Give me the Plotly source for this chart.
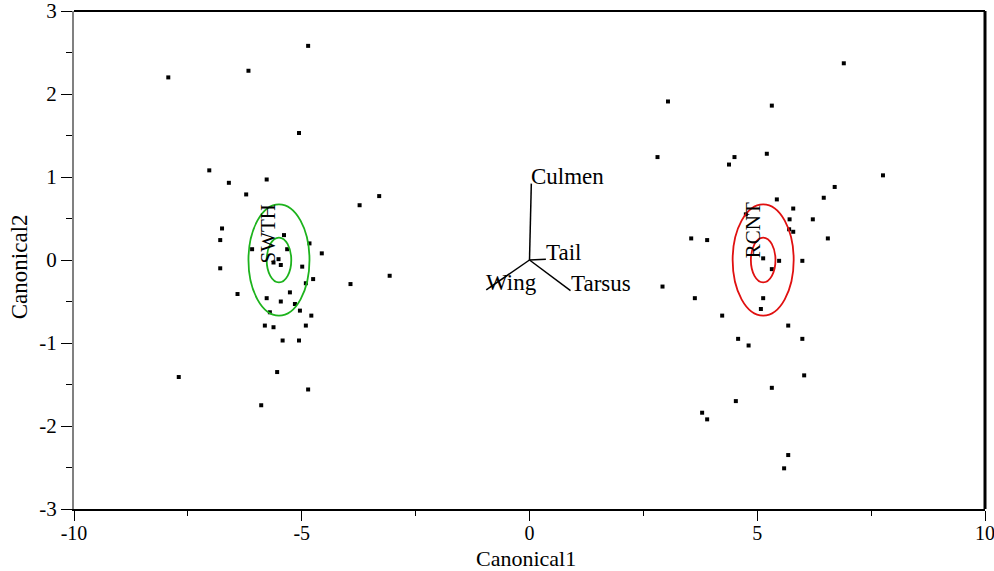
import plotly.graph_objects as go

# --- data ---
swth_x = [-7.93, -6.17, -4.86, -5.06, -7.03, -6.60, -5.77, -6.22, -3.30, -3.73, -6.75, -6.79,
          -6.09, -5.39, -4.83, -4.56, -5.32, -5.51, -5.62, -5.46, -6.79, -4.99, -4.75, -3.07,
          -3.93, -4.91, -6.41, -5.77, -5.26, -5.46, -5.15, -5.04, -4.79, -5.70, -5.81, -5.62,
          -4.91, -5.42, -5.06, -5.54, -7.70, -4.86, -5.89]
swth_y = [2.20, 2.28, 2.58, 1.53, 1.08, 0.93, 0.97, 0.79, 0.77, 0.66, 0.38, 0.24,
          0.13, 0.30, 0.20, 0.08, 0.13, 0.01, -0.03, -0.06, -0.10, -0.08, -0.23, -0.19,
          -0.29, -0.28, -0.41, -0.46, -0.39, -0.50, -0.53, -0.61, -0.67, -0.63, -0.79, -0.81,
          -0.79, -0.97, -0.97, -1.35, -1.41, -1.56, -1.75]

rcnt_x = [6.90, 3.04, 5.32, 2.81, 4.50, 4.38, 5.21, 7.76, 6.70, 6.46, 5.43, 5.79, 4.75,
          5.71, 6.22, 5.70, 5.79, 3.55, 3.90, 6.55, 5.13, 5.48, 5.99, 5.32, 2.92, 3.63,
          5.13, 5.08, 4.23, 5.68, 4.58, 4.81, 5.99, 6.03, 5.32, 4.53, 3.79, 3.90, 5.68, 5.59]
rcnt_y = [2.37, 1.91, 1.86, 1.24, 1.24, 1.15, 1.28, 1.02, 0.88, 0.75, 0.73, 0.62, 0.55,
          0.49, 0.49, 0.37, 0.34, 0.26, 0.24, 0.26, 0.02, -0.01, -0.01, -0.11, -0.32, -0.46,
          -0.46, -0.59, -0.67, -0.79, -0.95, -1.03, -0.95, -1.39, -1.54, -1.70, -1.84, -1.92,
          -2.35, -2.51]

group_names = ["SWTH", "RCNT"]
group_center_x = [-5.50, 5.13]
group_center_y = [0.0, 0.0]
group_colors = ["#1db31d", "#e01010"]
circle_radii = [0.27, 0.67]
group_label_x = [-5.74, 4.91]
group_label_y = [0.32, 0.36]

ray_names = ["Culmen", "Tail", "Wing", "Tarsus"]
ray_x = [0.04, 0.36, -0.95, 0.90]
ray_y = [0.92, 0.01, -0.36, -0.37]

x_ticks = [-10, -5, 0, 5, 10]
y_ticks = [-3, -2, -1, 0, 1, 2, 3]
x_title = "Canonical1"
y_title = "Canonical2"

FONT = "Liberation Serif"

fig = go.Figure()

fig.add_trace(go.Scatter(x=swth_x, y=swth_y, mode="markers",
                         marker=dict(symbol="square", size=4, color="black"),
                         showlegend=False, hoverinfo="skip"))
fig.add_trace(go.Scatter(x=rcnt_x, y=rcnt_y, mode="markers",
                         marker=dict(symbol="square", size=4, color="black"),
                         showlegend=False, hoverinfo="skip"))

# biplot rays
lx, ly = [], []
for rx, ry in zip(ray_x, ray_y):
    lx += [0, rx, None]
    ly += [0, ry, None]
fig.add_trace(go.Scatter(x=lx, y=ly, mode="lines", line=dict(color="black", width=1.5),
                         showlegend=False, hoverinfo="skip"))

shapes = []
for cx, cy, col in zip(group_center_x, group_center_y, group_colors):
    for r in circle_radii:
        shapes.append(dict(type="circle", xref="x", yref="y",
                           x0=cx - r, x1=cx + r, y0=cy - r, y1=cy + r,
                           line=dict(color=col, width=1.8)))
# top and right frame lines
shapes.append(dict(type="line", xref="paper", yref="paper", x0=0, x1=1, y0=1, y1=1,
                   line=dict(color="black", width=2)))
shapes.append(dict(type="line", xref="paper", yref="paper", x0=1, x1=1, y0=0, y1=1,
                   line=dict(color="black", width=3)))

annotations = []
for name, gx, gy in zip(group_names, group_label_x, group_label_y):
    annotations.append(dict(x=gx, y=gy, text=name, showarrow=False, textangle=-90,
                            xanchor="center", yanchor="middle",
                            font=dict(family=FONT, size=21, color="black")))
for name, rx, ry in zip(ray_names, ray_x, ray_y):
    annotations.append(dict(x=rx, y=ry, text=name, showarrow=False,
                            xanchor="left", yanchor="middle", yshift=7, xshift=-2,
                            font=dict(family=FONT, size=23, color="black")))
# axis titles
annotations.append(dict(xref="paper", yref="paper", x=0.496, y=-0.0984, text=x_title,
                        showarrow=False, xanchor="center", yanchor="middle", borderpad=0,
                        font=dict(family=FONT, size=22, color="black")))
annotations.append(dict(xref="paper", yref="paper", x=-0.059, y=0.486, text=y_title,
                        showarrow=False, xanchor="center", yanchor="middle", textangle=-90,
                        font=dict(family=FONT, size=23, color="black")))

fig.update_layout(
    width=994, height=571,
    margin=dict(l=74, r=9, t=11, b=62, autoexpand=False),
    paper_bgcolor="white", plot_bgcolor="white",
    font=dict(family=FONT, size=20, color="black"),
    shapes=shapes, annotations=annotations,
    xaxis=dict(range=[-10, 10], tickvals=x_ticks, ticktext=[str(v) for v in x_ticks],
               automargin=False, ticklabeloverflow="allow",
               showgrid=False, zeroline=False, showline=True, linecolor="black", linewidth=2,
               ticks="outside", ticklen=10, tickwidth=1, tickcolor="black",
               minor=dict(tickvals=[-7.5, -2.5, 2.5, 7.5], ticks="outside", ticklen=5,
                          tickcolor="black", tickwidth=1),
               ticklabelstandoff=-5,
               tickfont=dict(family=FONT, size=20)),
    yaxis=dict(range=[-3, 3], tickvals=y_ticks, ticktext=[str(v) for v in y_ticks],
               automargin=False, ticklabeloverflow="allow",
               showgrid=False, zeroline=False, showline=True, linecolor="#808080", linewidth=2,
               ticks="outside", ticklen=11, tickwidth=1, tickcolor="black",
               minor=dict(tickvals=[-2.5, -1.5, -0.5, 0.5, 1.5, 2.5], ticks="outside", ticklen=6,
                          tickcolor="black", tickwidth=1),
               tickfont=dict(family=FONT, size=21)),
)

fig.write_html("out.html", config={"displayModeBar": False},
               post_script="document.body.style.margin='0';document.body.style.overflow='hidden';")
